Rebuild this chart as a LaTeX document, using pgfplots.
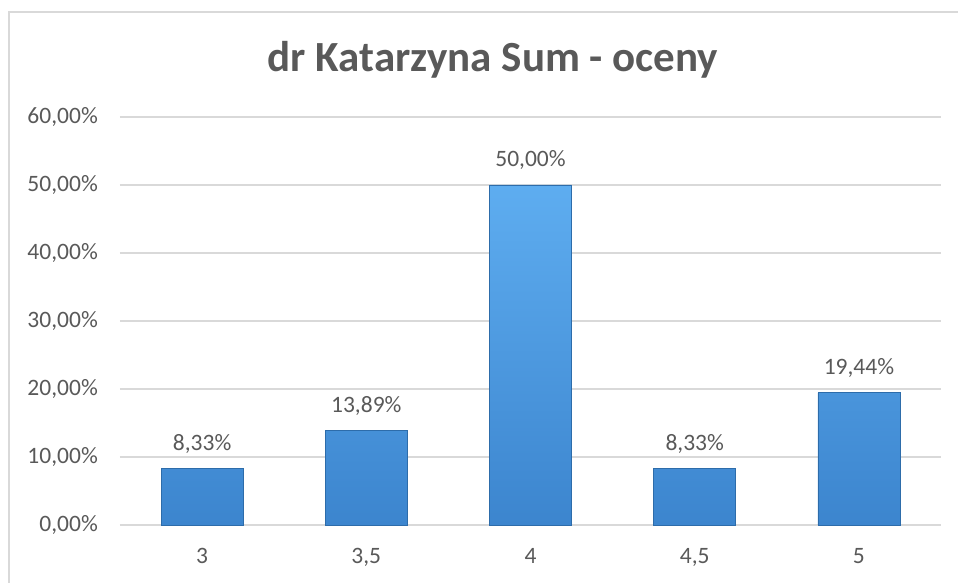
\documentclass[border=0pt]{standalone}
\usepackage{pgfplots}
\pgfplotsset{compat=1.18}
\usepackage{fontspec}
\setmainfont{Carlito}
\definecolor{txt}{HTML}{595959}
\definecolor{gridc}{HTML}{D9D9D9}
\definecolor{bartop}{HTML}{5EADF0}
\definecolor{barbot}{HTML}{3C85CE}
\definecolor{baredge}{HTML}{2D6CAA}
\begin{document}
\begin{tikzpicture}
\begin{axis}[scale only axis,
  width=821pt, height=408pt,
  xmin=-0.5, xmax=4.5, ymin=0, ymax=60,
  xtick={0,1,2,3,4}, xticklabels={3,{3,5},4,{4,5},5},
  ytick={0,10,20,30,40,50,60},
  yticklabels={{0,00\%},{10,00\%},{20,00\%},{30,00\%},{40,00\%},{50,00\%},{60,00\%}},
  ymajorgrids, grid style={gridc, line width=1.2pt},
  axis line style={draw=none}, major tick length=0pt,
  tick label style={font=\fontsize{23.5}{27}\selectfont, text=txt},
  yticklabel style={anchor=base east, inner sep=0pt, xshift=-22pt, yshift=-7pt},
  xticklabel style={anchor=base, inner sep=0pt, yshift=-39pt},
  ybar, bar width=82pt, bar shift=0pt,
  nodes near coords, point meta=explicit symbolic,
  nodes near coords style={font=\fontsize{23.5}{27}\selectfont, text=txt, anchor=base, inner sep=0pt, yshift=18pt},
  clip=false,
]
\addplot[draw=baredge, line width=0.8pt, top color=bartop, bottom color=barbot] coordinates {
  (0,8.33) [8,33\%]
  (1,13.89) [13,89\%]
  (2,50) [50,00\%]
  (3,8.33) [8,33\%]
  (4,19.44) [19,44\%]
};
\coordinate (O) at (rel axis cs:0,0);
\end{axis}
\pgfresetboundingbox
\path[use as bounding box] ([shift={(-120pt,-58pt)}]O) rectangle ++(958pt,583pt);
\draw[gridc, line width=1.2pt] ([shift={(-111pt,-100pt)}]O) -- ([shift={(-111pt,513pt)}]O) -- ([shift={(900pt,513pt)}]O);
\node[font=\fontsize{43}{50}\selectfont\bfseries, text=txt, anchor=base, inner sep=0pt] at ([shift={(373pt,453pt)}]O) {dr Katarzyna Sum - oceny};
\end{tikzpicture}
\end{document}
